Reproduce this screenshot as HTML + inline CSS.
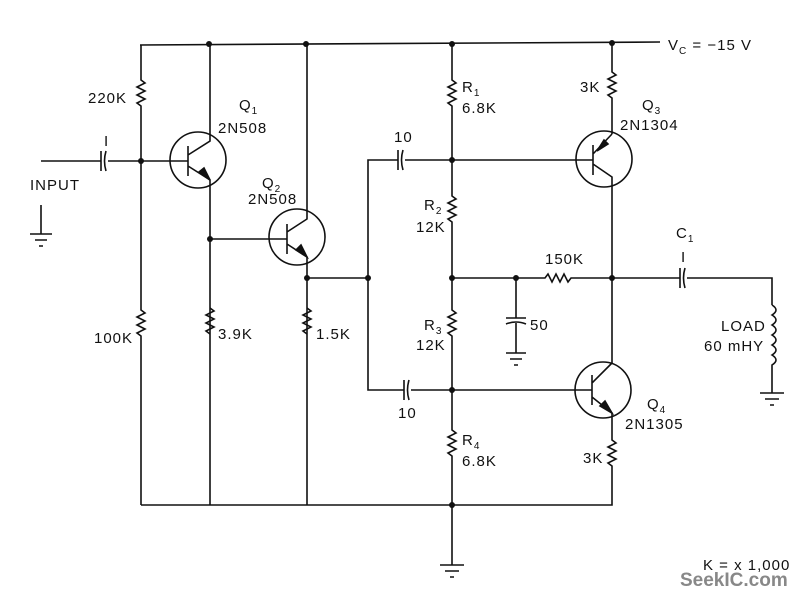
<!DOCTYPE html>
<html><head><meta charset="utf-8"><style>
body{margin:0;background:#fff;width:800px;height:596px;overflow:hidden}
text{font-family:"Liberation Sans",sans-serif;fill:#111;font-size:15px;letter-spacing:1px}
</style></head><body>
<svg width="800" height="596" viewBox="0 0 800 596" xmlns="http://www.w3.org/2000/svg">
<g stroke="#111" stroke-width="1.6" fill="none">
<path d="M140 45 L660 42"/>
<path d="M141 45 V80 l4 3 l-8 4 l8 4 l-8 4 l8 4 l-8 4 l4 3 V310 l4 3 l-8 4 l8 4 l-8 4 l8 4 l-8 4 l4 3 V505"/>
<path d="M41 161 H101 M108 161 H141 M101 151 V171 M106 151 q-3 10 0 20"/>
<path d="M41 205 V234 M30 234 H52 M35 240 H47 M39 246 H43"/>
<circle cx="198" cy="160" r="28"/>
<path d="M141 161 H188 M188 146 V176 M188 155 L210 141 V44 M188 166 L210 180 V505"/>
<path d="M210 180 L199 172 L204 168 Z" fill="#111"/>
<path d="M210 239 H287 M287 224 V254 M287 232 L307 219 V44 M287 244 L307 257 V505"/>
<circle cx="297" cy="237" r="28"/>
<path d="M307 257 L296 250 L301 245 Z" fill="#111"/>
<path d="M210 308 l4 3 l-8 4 l8 4 l-8 4 l8 4 l-8 4 l4 3"/>
<path d="M307 308 l4 3 l-8 4 l8 4 l-8 4 l8 4 l-8 4 l4 3"/>
<path d="M307 278 H368 V160 H398 M405 160 H452 M398 150 V170 M403 150 q-3 10 0 20"/>
<path d="M368 278 V390 H404 M411 390 H452 M404 380 V400 M409 380 q-3 10 0 20"/>
<path d="M452 44 V80 l4 3 l-8 4 l8 4 l-8 4 l8 4 l-8 4 l4 3 V196 l4 3 l-8 4 l8 4 l-8 4 l8 4 l-8 4 l4 3 V310 l4 3 l-8 4 l8 4 l-8 4 l8 4 l-8 4 l4 3 V430 l4 3 l-8 4 l8 4 l-8 4 l8 4 l-8 4 l4 3 V565"/>
<path d="M440 565 H464 M445 571 H459 M450 577 H454"/>
<circle cx="604" cy="159" r="28"/>
<path d="M452 160 H593 M593 145 V175 M593 154 L612 134 M593 164 L612 177 V363"/>
<path d="M612 43 V72 l4 3 l-8 4 l8 4 l-8 4 l8 4 l-8 4 l4 3 V134"/>
<path d="M597 151 L608 144 L604 140 Z" fill="#111"/>
<path d="M452 278 H545 l3 -4 l4 8 l4 -8 l4 8 l4 -8 l4 8 l3 -4 H680 M687 278 H772 V305"/>
<path d="M680 268 V288 M685 268 q-3 10 0 20"/>
<path d="M516 278 V318 M506 318 H526 M506 324 Q516 320 526 324 M516 323 V353 M506 353 H526 M510 359 H522 M514 365 H518"/>
<path d="M772 305 q8 5 0 10 q8 5 0 10 q8 5 0 10 q8 5 0 10 q8 5 0 10 q8 5 0 10 V393 M760 393 H784 M765 399 H779 M770 405 H774"/>
<circle cx="603" cy="390" r="28"/>
<path d="M452 390 H592 M592 375 V405 M592 383 L612 363 M592 397 L612 413 V440 l4 3 l-8 4 l8 4 l-8 4 l8 4 l-8 4 l4 3 V505 H141"/>
<path d="M612 413 L600 406 L605 401 Z" fill="#111"/>
</g>
<g fill="#111">
<circle cx="209" cy="44" r="3"/><circle cx="306" cy="44" r="3"/><circle cx="452" cy="44" r="3"/><circle cx="612" cy="43" r="3"/>
<circle cx="141" cy="161" r="3"/><circle cx="210" cy="239" r="3"/><circle cx="307" cy="278" r="3"/><circle cx="368" cy="278" r="3"/>
<circle cx="452" cy="160" r="3"/><circle cx="452" cy="278" r="3"/><circle cx="516" cy="278" r="3"/><circle cx="612" cy="278" r="3"/>
<circle cx="452" cy="390" r="3"/><circle cx="452" cy="505" r="3"/>
</g>
<text x="668" y="50">V<tspan font-size="10" dy="4">C</tspan><tspan dy="-4"> = −15 V</tspan></text>
<text x="88" y="103">220K</text>
<text x="104" y="146">I</text>
<text x="30" y="190">INPUT</text>
<text x="239" y="110">Q<tspan font-size="10" dy="4">1</tspan></text>
<text x="218" y="133">2N508</text>
<text x="262" y="188">Q<tspan font-size="10" dy="4">2</tspan></text>
<text x="248" y="204">2N508</text>
<text x="94" y="343">100K</text>
<text x="218" y="339">3.9K</text>
<text x="316" y="339">1.5K</text>
<text x="394" y="142">10</text>
<text x="398" y="418">10</text>
<text x="462" y="92">R<tspan font-size="10" dy="4">1</tspan></text>
<text x="462" y="113">6.8K</text>
<text x="424" y="210">R<tspan font-size="10" dy="4">2</tspan></text>
<text x="416" y="232">12K</text>
<text x="424" y="330">R<tspan font-size="10" dy="4">3</tspan></text>
<text x="416" y="350">12K</text>
<text x="462" y="445">R<tspan font-size="10" dy="4">4</tspan></text>
<text x="462" y="466">6.8K</text>
<text x="580" y="92">3K</text>
<text x="642" y="110">Q<tspan font-size="10" dy="4">3</tspan></text>
<text x="620" y="130">2N1304</text>
<text x="545" y="264">150K</text>
<text x="676" y="238">C<tspan font-size="10" dy="4">1</tspan></text>
<text x="681" y="262">I</text>
<text x="530" y="330">50</text>
<text x="721" y="331">LOAD</text>
<text x="704" y="351">60 mHY</text>
<text x="647" y="409">Q<tspan font-size="10" dy="4">4</tspan></text>
<text x="625" y="429">2N1305</text>
<text x="583" y="463">3K</text>
<text x="703" y="570">K = x 1,000</text>
<text x="680" y="586" style="font-size:19px;font-weight:bold;fill:#888;letter-spacing:0">SeekIC.com</text>
</svg>
</body></html>
